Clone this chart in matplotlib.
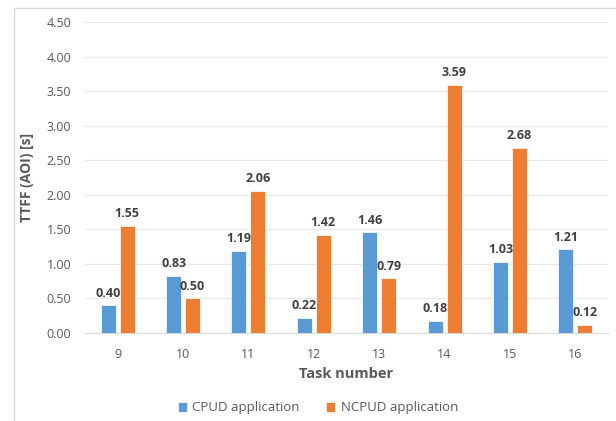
import matplotlib.pyplot as plt
import numpy as np
from matplotlib.lines import Line2D

tasks = ['9', '10', '11', '12', '13', '14', '15', '16']
cpud = [0.40, 0.83, 1.19, 0.22, 1.46, 0.18, 1.03, 1.21]
ncpud = [1.55, 0.50, 2.06, 1.42, 0.79, 3.59, 2.68, 0.12]

blue = '#5B9BD5'
orange = '#ED7D31'
txt = '#595959'

plt.rcParams['font.family'] = ['Open Sans', 'DejaVu Sans']

fig = plt.figure(figsize=(6.16, 4.21), dpi=100)
ax = fig.add_axes([85 / 616, 0.209, 523 / 616, 0.7387])

# outer chart frame (only left and top edges visible in the crop)
fig.add_artist(Line2D([14 / 616, 14 / 616], [0, 1 - 8 / 421], transform=fig.transFigure,
                      color='#D9D9D9', lw=1))
fig.add_artist(Line2D([14 / 616, 1], [1 - 8 / 421, 1 - 8 / 421], transform=fig.transFigure,
                      color='#D9D9D9', lw=1))

x = np.arange(len(tasks))
w = 0.23
off = 0.145
b1 = ax.bar(x - off, cpud, w, color=blue, edgecolor='white', linewidth=0.5,
            label='CPUD application', zorder=3)
b2 = ax.bar(x + off, ncpud, w, color=orange, edgecolor='white', linewidth=0.5,
            label='NCPUD application', zorder=3)

for bars, vals in ((b1, cpud), (b2, ncpud)):
    for r, v in zip(bars, vals):
        ax.annotate(f'{v:.2f}', (r.get_x() + r.get_width() / 2, v), xytext=(0, 4),
                    textcoords='offset points', ha='center', va='bottom',
                    fontsize=9, fontweight='bold', color='#404040')

ax.set_xlim(-0.5, len(tasks) - 0.5)
ax.set_ylim(0, 4.5)
ax.set_yticks(np.arange(0, 4.51, 0.5))
ax.set_yticklabels([f'{t:.2f}' for t in np.arange(0, 4.51, 0.5)])
ax.set_xticks(x)
ax.set_xticklabels(tasks)
ax.tick_params(axis='y', length=0, labelsize=9, colors=txt, pad=10)
ax.tick_params(axis='x', length=0, labelsize=9, colors=txt, pad=11)
ax.grid(axis='y', color='#E8E8E8', lw=0.8, zorder=0)
for s in ['top', 'right', 'left']:
    ax.spines[s].set_visible(False)
ax.spines['bottom'].set_color('#D9D9D9')

ax.set_xlabel('Task number', fontsize=10.5, fontweight='bold', color=txt, labelpad=4)
ax.set_ylabel('TTFF (AOI) [s]', fontsize=10, fontweight='bold', color=txt, labelpad=9)

fig.legend(handles=[b1, b2], loc='center', bbox_to_anchor=(318 / 616, 1 - 408 / 421), ncol=2,
           frameon=False, fontsize=9.5, labelcolor=txt, handlelength=0.7, handleheight=0.7,
           columnspacing=2.0, handletextpad=0.4)

fig.savefig('out.png', dpi=100)
